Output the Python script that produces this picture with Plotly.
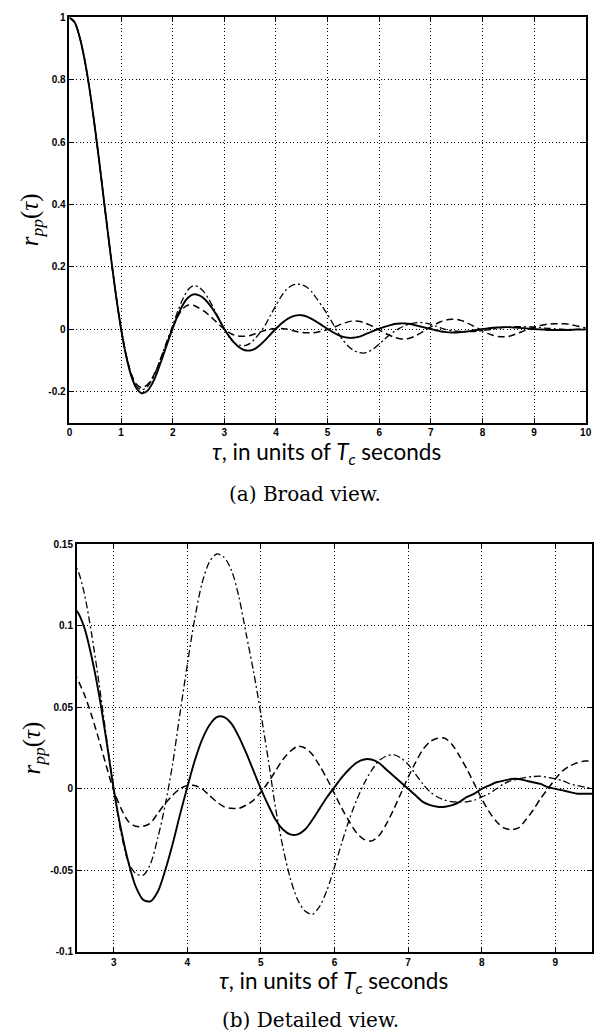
import plotly.graph_objects as go

# ---- data ----
TAU = [0.0, 0.1, 0.2, 0.3, 0.4, 0.5, 0.6, 0.7, 0.8, 0.9,
       1.0, 1.1, 1.2, 1.3, 1.4, 1.5, 1.6, 1.7, 1.8, 1.9,
       2.0, 2.1, 2.2, 2.3, 2.4, 2.5, 2.6, 2.7, 2.8, 2.9,
       3.0, 3.1, 3.2, 3.3, 3.4, 3.5, 3.6, 3.7, 3.8, 3.9,
       4.0, 4.1, 4.2, 4.3, 4.4, 4.5, 4.6, 4.7, 4.8, 4.9,
       5.0, 5.1, 5.2, 5.3, 5.4, 5.5, 5.6, 5.7, 5.8, 5.9,
       6.0, 6.1, 6.2, 6.3, 6.4, 6.5, 6.6, 6.7, 6.8, 6.9,
       7.0, 7.1, 7.2, 7.3, 7.4, 7.5, 7.6, 7.7, 7.8, 7.9,
       8.0, 8.1, 8.2, 8.3, 8.4, 8.5, 8.6, 8.7, 8.8, 8.9,
       9.0, 9.1, 9.2, 9.3, 9.4, 9.5, 9.6, 9.7, 9.8, 9.9,
       10.0]

R_SOLID = [1.000, 0.984, 0.935, 0.858, 0.757, 0.637, 0.505, 0.368, 0.234, 0.109,
           0.000, -0.088, -0.152, -0.191, -0.206, -0.200, -0.176, -0.138, -0.092, -0.044,
           0.003, 0.045, 0.079, 0.101, 0.111, 0.109, 0.099, 0.081, 0.058, 0.030,
           0.000, -0.025, -0.045, -0.060, -0.068, -0.069, -0.063, -0.050, -0.034, -0.016,
           0.001, 0.017, 0.030, 0.039, 0.044, 0.044, 0.040, 0.032, 0.022, 0.011,
           0.000, -0.010, -0.019, -0.025, -0.028, -0.028, -0.025, -0.019, -0.012, -0.005,
           0.001, 0.007, 0.012, 0.016, 0.018, 0.018, 0.016, 0.012, 0.008, 0.004,
           0.000, -0.004, -0.008, -0.010, -0.011, -0.011, -0.010, -0.008, -0.005, -0.003,
           0.000, 0.002, 0.004, 0.005, 0.006, 0.006, 0.005, 0.004, 0.003, 0.001,
           0.000, -0.001, -0.002, -0.003, -0.003, -0.003, -0.003, -0.003, -0.002, -0.002,
           -0.002]

R_DASHED = [1.000, 0.984, 0.935, 0.858, 0.757, 0.637, 0.505, 0.368, 0.234, 0.109,
            0.000, -0.085, -0.145, -0.178, -0.188, -0.180, -0.158, -0.124, -0.082, -0.038,
            0.005, 0.041, 0.066, 0.077, 0.076, 0.068, 0.058, 0.045, 0.030, 0.014,
            -0.001, -0.012, -0.020, -0.023, -0.023, -0.021, -0.015, -0.009, -0.004, 0.000,
            0.002, 0.002, 0.000, -0.004, -0.008, -0.011, -0.012, -0.012, -0.010, -0.007,
            -0.002, 0.004, 0.011, 0.018, 0.023, 0.026, 0.025, 0.021, 0.014, 0.006,
            -0.003, -0.012, -0.020, -0.027, -0.031, -0.032, -0.029, -0.022, -0.013, -0.003,
            0.007, 0.016, 0.024, 0.029, 0.031, 0.031, 0.027, 0.020, 0.012, 0.003,
            -0.006, -0.014, -0.020, -0.024, -0.025, -0.024, -0.019, -0.013, -0.006, 0.000,
            0.006, 0.011, 0.014, 0.016, 0.017, 0.017, 0.017, 0.015, 0.011, 0.007,
            0.003]

R_DASHDOT = [1.000, 0.984, 0.935, 0.858, 0.757, 0.637, 0.505, 0.368, 0.234, 0.109,
             0.000, -0.087, -0.150, -0.185, -0.195, -0.187, -0.162, -0.124, -0.079, -0.033,
             0.012, 0.058, 0.098, 0.127, 0.139, 0.135, 0.120, 0.095, 0.065, 0.032,
             0.000, -0.027, -0.045, -0.052, -0.053, -0.046, -0.030, -0.010, 0.015, 0.046,
             0.076, 0.104, 0.126, 0.139, 0.144, 0.142, 0.134, 0.118, 0.095, 0.072,
             0.046, 0.018, -0.012, -0.036, -0.055, -0.068, -0.075, -0.077, -0.072, -0.062,
             -0.048, -0.033, -0.019, -0.007, 0.003, 0.011, 0.017, 0.020, 0.021, 0.019,
             0.015, 0.009, 0.003, -0.002, -0.005, -0.007, -0.008, -0.008, -0.008, -0.007,
             -0.005, -0.003, 0.000, 0.003, 0.005, 0.006, 0.007, 0.0075, 0.0077, 0.007,
             0.006, 0.005, 0.003, 0.002, 0.001, 0.000, -0.001, -0.001, -0.001, 0.000,
             0.000]

TOP_XTICKS = [0, 1, 2, 3, 4, 5, 6, 7, 8, 9, 10]
TOP_YTICKS = [-0.2, 0, 0.2, 0.4, 0.6, 0.8, 1]
TOP_YLABELS = ["-0.2", "0", "0.2", "0.4", "0.6", "0.8", "1"]
BOT_XTICKS = [3, 4, 5, 6, 7, 8, 9]
BOT_YTICKS = [-0.1, -0.05, 0, 0.05, 0.1, 0.15]
BOT_YLABELS = ["-0.1", "-0.05", "0", "0.05", "0.1", "0.15"]

X_TITLE = "<i>τ</i>, in units of <i>T<sub>c</sub></i> seconds"
Y_TITLE = "<i>r<sub>pp</sub></i>(<i>τ</i>)"
CAPTION_A = "(a) Broad view."
CAPTION_B = "(b) Detailed view."

# ---- figure ----
W, H = 603, 1036
fig = go.Figure()

styles = [
    (R_SOLID, dict(color="black", width=1.9, dash="solid")),
    (R_DASHED, dict(color="black", width=1.5, dash="7px,4px")),
    (R_DASHDOT, dict(color="black", width=1.3, dash="7px,3px,2px,3px")),
]
for xa, ya in [("x", "y"), ("x2", "y2")]:
    for ys, ln in styles:
        fig.add_trace(go.Scatter(x=TAU, y=ys, mode="lines", xaxis=xa, yaxis=ya,
                                 line=dict(shape="spline", smoothing=0.8, **ln),
                                 showlegend=False, hoverinfo="skip"))

tickfont = dict(family="Liberation Sans", size=10, color="black", weight="bold")
common = dict(showline=True, linecolor="black", linewidth=1.8, mirror="ticks",
              ticks="inside", ticklen=5, tickwidth=1.2, tickcolor="black",
              showgrid=True, gridcolor="black", gridwidth=1, griddash="1px,2.5px",
              zeroline=False, tickfont=tickfont, ticklabeloverflow="allow")

top_x = [67.5 / W, 591.5 / W]
top_y = [1 - 421 / H, 1 - 11.5 / H]
bot_x = [75 / W, 598 / W]
bot_y = [1 - 956 / H, 1 - 544 / H]

fig.update_layout(
    width=W, height=H,
    margin=dict(l=0, r=0, t=0, b=0),
    paper_bgcolor="white", plot_bgcolor="white",
    xaxis=dict(domain=top_x, anchor="y", range=[0, 10], tickvals=TOP_XTICKS,
               ticktext=[str(t) for t in TOP_XTICKS], **common),
    yaxis=dict(domain=top_y, anchor="x", range=[-0.3, 1], tickvals=TOP_YTICKS,
               ticktext=TOP_YLABELS, **common),
    xaxis2=dict(domain=bot_x, anchor="y2", range=[2.5, 9.5], tickvals=BOT_XTICKS,
                ticktext=[str(t) for t in BOT_XTICKS], **common),
    yaxis2=dict(domain=bot_y, anchor="x2", range=[-0.1, 0.15], tickvals=BOT_YTICKS,
                ticktext=BOT_YLABELS, **common),
)

sans = dict(family="Lato", size=22.5, color="black")
serif = dict(family="DejaVu Serif", size=20, color="black")
yfont = dict(family="Liberation Serif", size=25, color="black")
ann = []
ann.append(dict(text=X_TITLE, x=328 / W, y=1 - 452 / H, font=sans))
ann.append(dict(text=CAPTION_A, x=307 / W, y=1 - 493 / H, font=serif))
ann.append(dict(text=X_TITLE, x=336 / W, y=1 - 986 / H, font=sans))
ann.append(dict(text=CAPTION_B, x=312 / W, y=1 - 1025 / H, font=serif))
ann.append(dict(text=Y_TITLE, x=29 / W, y=1 - 216 / H, textangle=-90, font=yfont))
ann.append(dict(text=Y_TITLE, x=30 / W, y=1 - 750 / H, textangle=-90, font=yfont))
for a in ann:
    a.update(xref="paper", yref="paper", showarrow=False, xanchor="center", yanchor="middle")
fig.update_layout(annotations=ann)

fig.write_html("out.html", config={"displayModeBar": False},
               post_script="document.body.style.margin='0';")
